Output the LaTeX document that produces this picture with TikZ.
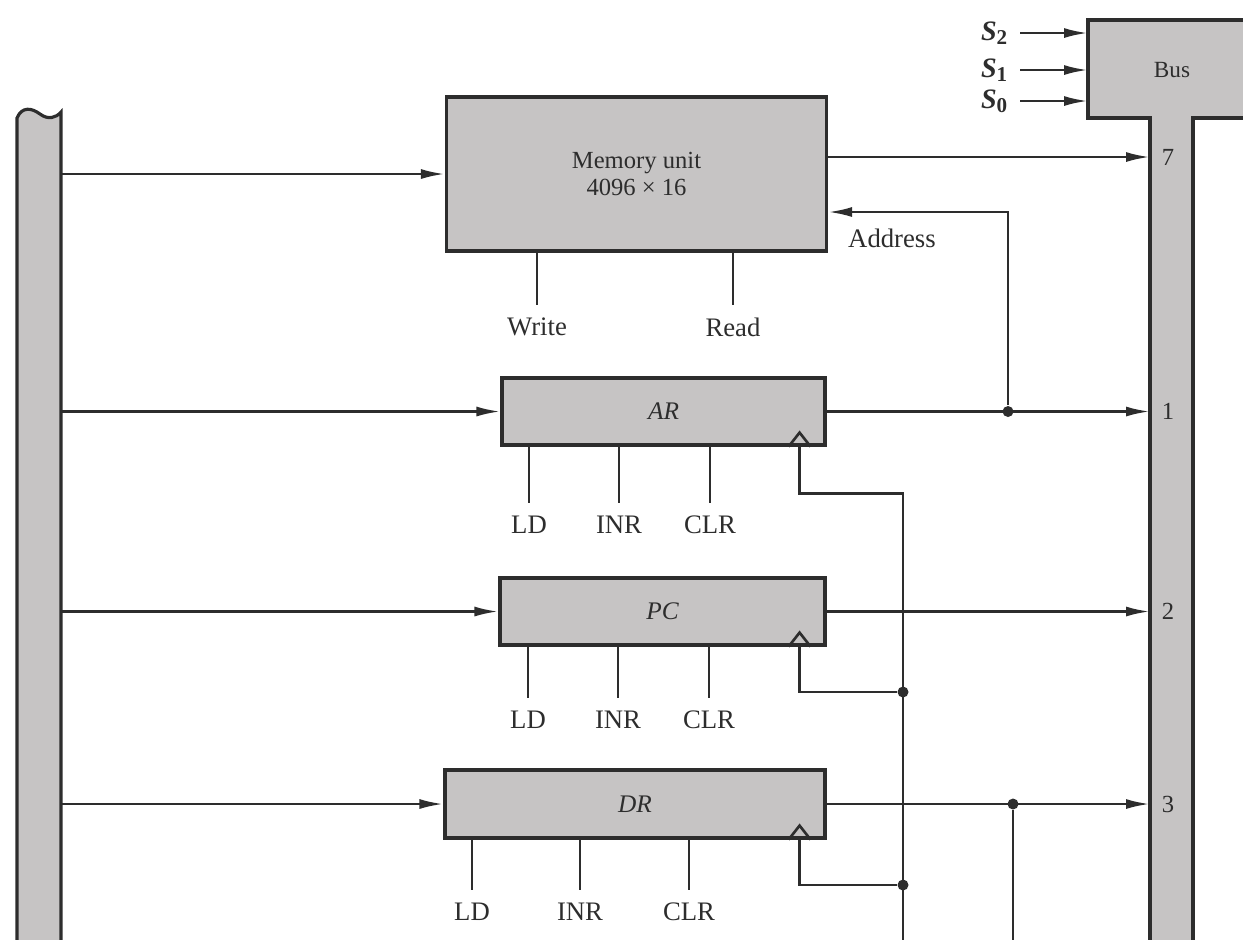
\documentclass[tikz,border=0pt]{standalone}
\usepackage{fontspec}
\setmainfont{Liberation Serif}
\usetikzlibrary{arrows.meta, calc}
\definecolor{busGray}{RGB}{198,196,196}
\definecolor{wireInk}{RGB}{45,45,45}
\tikzset{
  regNode/.style={
    draw=wireInk,
    line width=0.9pt,
    fill=busGray,
    inner sep=0pt,
    text=wireInk,
    font=\fontsize{7.2}{8}\selectfont\itshape
  },
  memNode/.style={regNode, font=\fontsize{7}{7.7}\selectfont, align=center, minimum width=38mm, minimum height=15.4mm},
  busShape/.style={draw=wireInk, line width=0.9pt, fill=busGray},
  busWire/.style={-{Latex[length=2.4mm,width=1mm]}, line width=0.75pt, draw=wireInk},
  plainWire/.style={line width=0.75pt, draw=wireInk},
  clockTip/.style={line width=0.75pt, draw=wireInk},
  ctrlLabel/.style={font=\fontsize{7.6}{9}\selectfont, inner sep=3.5pt, text=wireInk},
  selLabel/.style={font=\fontsize{8}{9}\selectfont\bfseries, inner sep=3pt, text=wireInk},
  lineNum/.style={font=\fontsize{7}{8}\selectfont, inner sep=3pt, text=wireInk},
  junctionDot/.style={circle, fill=wireInk, inner sep=0pt, minimum size=1.1mm}
}

\begin{document}
\begin{tikzpicture}[x=0.1mm, y=-0.1mm]
  \useasboundingbox (0,0) rectangle (1243,939);
  \clip (0,0) rectangle (1243,939);

  % left and right buses
  \path[busShape] (17,950) -- (17,118) .. controls (22,106) and (32,108) .. (40,114)
    .. controls (48,120) and (56,118) .. (61,112) -- (61,950) -- cycle;
  \path[busShape] (1088,20) -- (1250,20) -- (1250,118) -- (1193,118) -- (1193,950)
    -- (1150,950) -- (1150,118) -- (1088,118) -- cycle;
  \node[lineNum, font=\fontsize{6.6}{8}\selectfont] (busLabel) at (1172,70) {Bus};

  \coordinate (leftBus) at (61,0);
  \coordinate (busIn) at (1150,0);
  \coordinate (selIn) at (1088,0);
  \coordinate (clkBus) at (903,950);

  % select lines
  \node[selLabel] (s2) at (995,33) {\textit{S}\textsubscript{2}};
  \node[selLabel] (s1) at (995,70) {\textit{S}\textsubscript{1}};
  \node[selLabel] (s0) at (995,101) {\textit{S}\textsubscript{0}};
  \foreach \s in {s2,s1,s0}
    \draw[busWire] (\s.east) -- (selIn |- \s);

  % memory and registers
  \node[memNode] (mem) at (636.5,174) {Memory unit\\4096 × 16};
  \node[regNode, minimum width=32.3mm, minimum height=6.7mm] (ar) at (663.5,411.5) {AR};
  \node[regNode, minimum width=32.5mm, minimum height=6.7mm] (pc) at (662.5,611.5) {PC};
  \node[regNode, minimum width=38mm, minimum height=6.8mm] (dr) at (635,804) {DR};

  \node[ctrlLabel] (wrLabel) at (537,327) {Write};
  \node[ctrlLabel] (rdLabel) at (733,327) {Read};
  \draw[plainWire] (wrLabel |- mem.south) -- (wrLabel.north);
  \draw[plainWire] (rdLabel |- mem.south) -- (rdLabel.north);

  \foreach \reg/\ya/\xa/\xb/\xc in {ar/525/529/619/710, pc/720/528/618/709, dr/912/472/580/689} {
    \node[ctrlLabel] (\reg LD) at (\xa,\ya) {LD};
    \node[ctrlLabel] (\reg INR) at (\xb,\ya) {INR};
    \node[ctrlLabel] (\reg CLR) at (\xc,\ya) {CLR};
    \draw[plainWire] (\reg LD |- \reg.south) -- (\reg LD.north);
    \draw[plainWire] (\reg INR |- \reg.south) -- (\reg INR.north);
    \draw[plainWire] (\reg CLR |- \reg.south) -- (\reg CLR.north);
    \coordinate (\reg Clk) at ($(\reg.south east)+(-27,0)$);
    \draw[clockTip] ($(\reg Clk)+(-11,0)$) -- ++(11,-14) -- ++(11,14);
  }

  % inputs from the left bus
  \draw[busWire] (leftBus |- mem.west) -- (mem.west);
  \draw[busWire] (leftBus |- ar.west) -- (ar.west);
  \draw[busWire] (leftBus |- pc.west) -- (pc.west);
  \draw[busWire] (leftBus |- dr.west) -- (dr.west);

  % outputs to the bus
  \coordinate (memOut) at ($(mem.east)+(0,-17)$);
  \draw[busWire] (memOut) -- (busIn |- memOut) node[lineNum, right] {7};
  \draw[busWire] (ar.east) -- (busIn |- ar.east) node[lineNum, right] {1};
  \draw[busWire] (pc.east) -- (busIn |- pc.east) node[lineNum, right] {2};
  \draw[busWire] (dr.east) -- (busIn |- dr.east) node[lineNum, right] {3};

  % address and clock
  \node[junctionDot] (arTap) at (1008,411.5) {};
  \draw[busWire] (arTap) |- ($(mem.east)+(0,38)$);
  \node[ctrlLabel] (addrLabel) at (892,238) {Address};

  \node[junctionDot] (pcClkTap) at (903,692) {};
  \node[junctionDot] (drClkTap) at (903,885) {};
  \draw[plainWire] (arClk) -- ++(0,47) -| (clkBus);
  \draw[plainWire] (pcClk) |- (pcClkTap);
  \draw[plainWire] (drClk) |- (drClkTap);

  \node[junctionDot] (drTap) at (1013,804) {};
  \draw[plainWire] (drTap) -- (drTap |- clkBus);
\end{tikzpicture}
\end{document}
